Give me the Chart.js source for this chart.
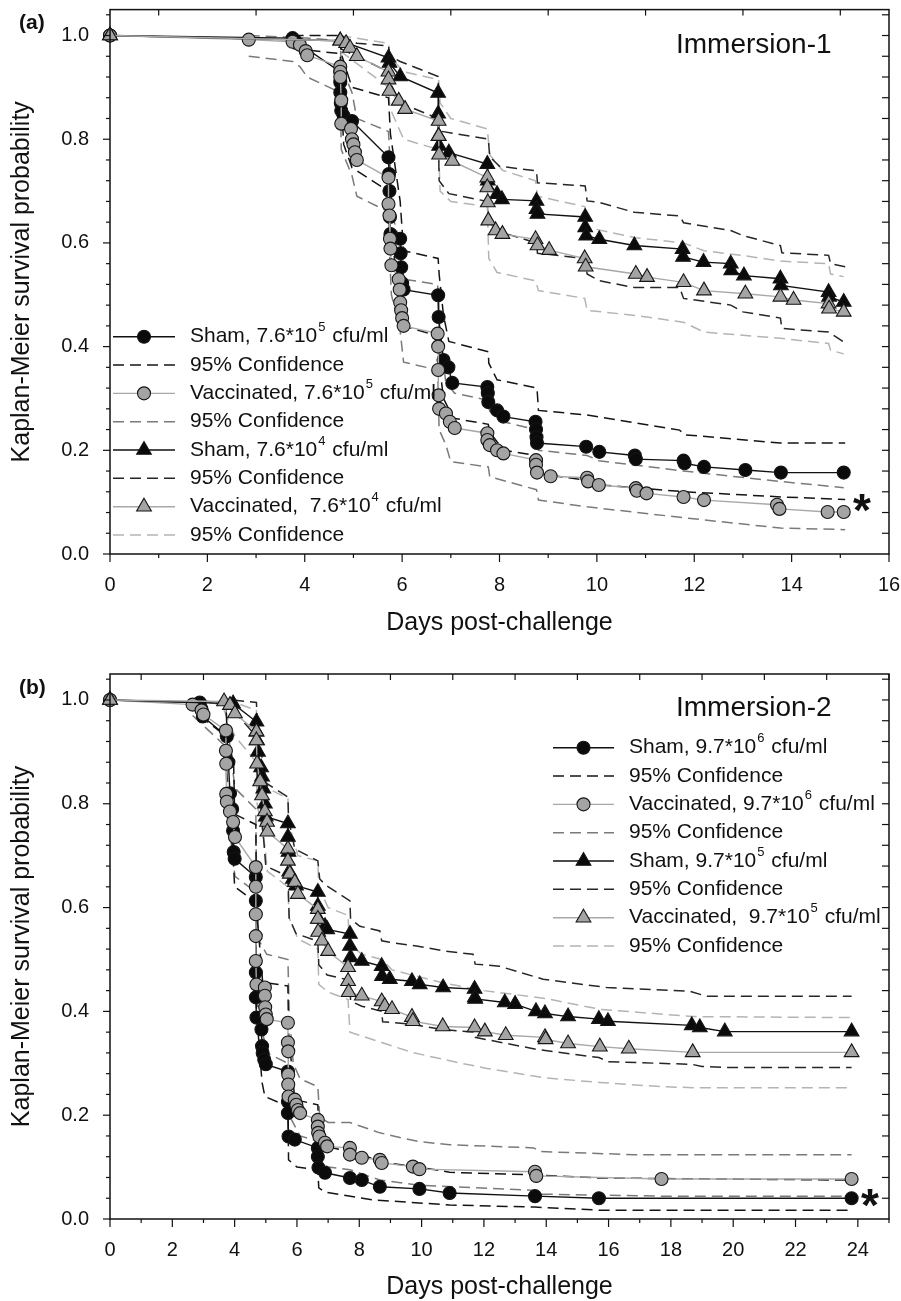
<!DOCTYPE html>
<html>
<head>
<meta charset="utf-8">
<script src="https://cdn.jsdelivr.net/npm/chart.js@4.4.1/dist/chart.umd.min.js"></script>
<style>
  html, body { margin: 0; padding: 0; background: #fff; }
  #wrap { position: relative; width: 901px; height: 1301px; }
  canvas { position: absolute; left: 0; }
  #chartA { top: 0; }
  #chartB { top: 650px; }
</style>
</head>
<body>
<div id="wrap">
  <canvas id="chartA" width="901" height="650"></canvas>
  <canvas id="chartB" width="901" height="651"></canvas>
</div>
<script>
// ---- tick labels ----
const yTicks = [0, 0.2, 0.4, 0.6, 0.8, 1.0];
const xTicksA = [0, 2, 4, 6, 8, 10, 12, 14, 16];
const xTicksB = [0, 2, 4, 6, 8, 10, 12, 14, 16, 18, 20, 22, 24];

// ---- panel (a): Immersion-1, [days, survival] ----
const aSham5 = [[0,1],[3.75,0.995],[3.8,0.99],[4.73,0.93],[4.73,0.91],[4.73,0.89],[4.74,0.87],[4.75,0.855],[4.8,0.845],[4.97,0.835],[5.72,0.765],[5.73,0.733],[5.74,0.70],[5.75,0.65],[5.76,0.617],[5.96,0.608],[5.97,0.58],[5.98,0.553],[6.0,0.522],[6.03,0.51],[6.74,0.499],[6.75,0.457],[6.85,0.374],[6.95,0.36],[7.03,0.33],[7.75,0.322],[7.76,0.31],[7.77,0.293],[7.95,0.277],[8.08,0.265],[8.74,0.255],[8.75,0.24],[8.76,0.225],[8.77,0.214],[9.78,0.207],[10.05,0.197],[10.78,0.19],[10.8,0.183],[11.78,0.18],[11.8,0.175],[12.2,0.168],[13.05,0.162],[13.78,0.157],[15.07,0.157]];
const aSham5Up = [[3.75,1.0],[4.73,1.0],[4.75,0.965],[4.97,0.9],[5.72,0.88],[5.76,0.81],[5.96,0.68],[6.03,0.585],[6.74,0.57],[6.76,0.54],[6.85,0.46],[6.96,0.41],[7.77,0.39],[7.78,0.368],[7.95,0.336],[8.77,0.32],[8.8,0.277],[9.8,0.268],[11.7,0.239],[11.8,0.23],[13.77,0.214],[15.1,0.214]];
const aSham5Lo = [[3.75,0.975],[4.73,0.965],[4.75,0.88],[4.8,0.79],[4.97,0.745],[5.72,0.70],[5.76,0.62],[5.96,0.5],[6.03,0.44],[6.74,0.42],[6.76,0.37],[6.85,0.3],[7.05,0.262],[7.77,0.25],[7.8,0.235],[8.08,0.2],[8.77,0.19],[8.8,0.155],[9.8,0.142],[9.85,0.135],[11.8,0.12],[13.8,0.11],[15.1,0.105]];

const aVac5 = [[0,1],[2.85,0.992],[3.75,0.988],[3.9,0.982],[4.02,0.97],[4.05,0.962],[4.73,0.94],[4.73,0.93],[4.73,0.92],[4.75,0.875],[4.75,0.83],[4.95,0.82],[4.97,0.80],[5.0,0.79],[5.03,0.775],[5.07,0.76],[5.72,0.726],[5.72,0.675],[5.74,0.653],[5.75,0.608],[5.76,0.589],[5.78,0.557],[5.93,0.53],[5.95,0.51],[5.96,0.485],[5.98,0.47],[6.0,0.455],[6.03,0.44],[6.73,0.425],[6.74,0.40],[6.74,0.355],[6.75,0.306],[6.76,0.28],[6.9,0.271],[6.98,0.255],[7.08,0.243],[7.75,0.233],[7.75,0.22],[7.8,0.21],[7.95,0.20],[8.08,0.194],[8.75,0.181],[8.75,0.172],[8.77,0.157],[9.05,0.15],[9.8,0.147],[9.82,0.14],[10.04,0.133],[10.8,0.127],[10.82,0.122],[11.02,0.117],[11.78,0.11],[12.2,0.104],[13.7,0.095],[13.75,0.087],[14.74,0.081],[15.07,0.081]];
const aVac5Up = [[2.85,1.0],[4.05,0.995],[4.73,0.99],[4.75,0.94],[4.97,0.89],[5.07,0.84],[5.72,0.815],[5.75,0.76],[5.78,0.66],[5.96,0.6],[6.03,0.53],[6.73,0.52],[6.76,0.43],[6.9,0.33],[7.08,0.31],[7.75,0.297],[7.8,0.275],[8.08,0.255],[8.75,0.24],[8.8,0.2],[9.8,0.19],[10.04,0.18],[11.78,0.16],[13.75,0.14],[15.07,0.128]];
const aVac5Lo = [[2.85,0.96],[3.75,0.95],[3.9,0.94],[4.05,0.92],[4.73,0.89],[4.75,0.78],[4.97,0.73],[5.07,0.69],[5.72,0.66],[5.75,0.56],[5.78,0.5],[5.96,0.43],[6.03,0.37],[6.73,0.355],[6.76,0.24],[6.9,0.21],[7.0,0.178],[7.77,0.168],[7.8,0.149],[8.76,0.124],[8.8,0.104],[9.8,0.091],[11.78,0.07],[13.77,0.05],[15.1,0.047]];

const aSham4 = [[0,1],[4.73,0.99],[5.72,0.957],[5.74,0.947],[5.96,0.921],[6.74,0.889],[6.74,0.849],[6.75,0.806],[6.76,0.787],[6.96,0.774],[7.75,0.752],[7.76,0.72],[7.95,0.694],[8.05,0.684],[8.76,0.681],[8.76,0.665],[8.78,0.656],[9.76,0.65],[9.76,0.63],[9.78,0.614],[10.05,0.607],[10.77,0.595],[11.76,0.588],[11.77,0.573],[12.19,0.563],[12.75,0.56],[12.76,0.547],[13.02,0.537],[13.77,0.531],[13.78,0.518],[14.76,0.505],[14.77,0.496],[15.07,0.486]];
const aSham4Up = [[4.73,1.0],[5.07,0.985],[5.72,0.98],[5.75,0.96],[5.96,0.95],[6.74,0.921],[6.76,0.816],[7.77,0.80],[7.8,0.766],[8.0,0.748],[8.76,0.739],[8.78,0.716],[9.76,0.71],[9.8,0.681],[10.05,0.678],[10.77,0.659],[11.7,0.652],[11.78,0.639],[12.75,0.624],[13.0,0.614],[13.77,0.595],[13.8,0.581],[14.76,0.576],[14.8,0.56],[15.1,0.554]];
const aSham4Lo = [[4.73,0.975],[5.72,0.93],[5.75,0.91],[5.96,0.87],[6.74,0.84],[6.76,0.72],[6.96,0.695],[7.75,0.68],[7.78,0.64],[8.05,0.62],[8.76,0.60],[8.78,0.58],[9.76,0.57],[9.8,0.54],[10.05,0.527],[10.77,0.514],[11.7,0.514],[11.78,0.493],[12.75,0.48],[13.0,0.467],[13.77,0.455],[13.8,0.435],[14.76,0.428],[15.07,0.409]];

const aVac4 = [[0,1],[4.73,0.99],[4.85,0.985],[4.93,0.976],[5.07,0.96],[5.72,0.93],[5.72,0.915],[5.74,0.893],[5.93,0.874],[6.06,0.858],[6.75,0.835],[6.75,0.806],[6.76,0.77],[7.03,0.758],[7.75,0.726],[7.75,0.707],[7.76,0.678],[7.77,0.643],[7.92,0.624],[8.06,0.617],[8.74,0.607],[8.78,0.595],[9.02,0.586],[9.75,0.57],[9.77,0.554],[10.8,0.54],[11.03,0.534],[11.78,0.524],[12.2,0.508],[13.05,0.502],[13.77,0.496],[14.04,0.49],[14.76,0.483],[14.77,0.473],[15.07,0.467]];
const aVac4Up = [[4.73,1.0],[5.72,0.985],[5.75,0.96],[6.03,0.93],[6.75,0.915],[6.78,0.87],[7.0,0.84],[7.75,0.82],[7.8,0.77],[8.06,0.74],[8.74,0.72],[8.78,0.69],[9.75,0.67],[9.8,0.63],[10.8,0.61],[11.78,0.6],[12.2,0.585],[13.05,0.575],[13.77,0.565],[14.76,0.56],[14.8,0.54],[15.07,0.535]];
const aVac4Lo = [[4.73,0.97],[5.72,0.9],[5.75,0.86],[6.03,0.8],[6.75,0.78],[6.78,0.7],[7.0,0.68],[7.75,0.67],[7.78,0.57],[7.95,0.543],[8.74,0.527],[8.8,0.508],[9.75,0.493],[9.8,0.47],[10.8,0.46],[11.78,0.447],[12.2,0.428],[13.77,0.416],[14.76,0.406],[14.8,0.393],[15.07,0.386]];

// ---- panel (b): Immersion-2 ----
const bSham6 = [[0,1],[2.88,0.995],[2.92,0.984],[2.98,0.968],[3.75,0.93],[3.8,0.88],[3.85,0.82],[3.92,0.79],[3.95,0.748],[3.97,0.707],[4.0,0.694],[4.68,0.659],[4.68,0.613],[4.68,0.475],[4.68,0.427],[4.7,0.388],[4.86,0.365],[4.88,0.333],[4.9,0.32],[4.95,0.307],[5.0,0.298],[5.71,0.284],[5.71,0.226],[5.71,0.204],[5.73,0.159],[5.93,0.153],[6.67,0.137],[6.67,0.12],[6.69,0.099],[6.9,0.089],[7.7,0.079],[8.08,0.075],[8.66,0.062],[9.93,0.058],[10.9,0.05],[13.64,0.044],[15.69,0.04],[23.8,0.04]];
const bSham6Up = [[2.88,1.0],[3.72,0.99],[3.75,0.95],[3.97,0.87],[4.0,0.78],[4.68,0.76],[4.7,0.6],[4.9,0.456],[5.71,0.449],[5.73,0.36],[5.93,0.23],[6.67,0.22],[6.7,0.17],[6.9,0.14],[7.7,0.13],[8.08,0.125],[8.66,0.11],[9.93,0.1],[10.9,0.09],[13.64,0.085],[15.69,0.079],[23.8,0.075]];
const bSham6Lo = [[2.88,0.97],[3.72,0.93],[3.75,0.86],[3.95,0.70],[4.0,0.64],[4.68,0.61],[4.7,0.4],[4.88,0.263],[4.97,0.236],[5.71,0.217],[5.73,0.114],[6.0,0.1],[6.67,0.095],[6.7,0.06],[6.9,0.052],[8.4,0.037],[10.9,0.027],[13.64,0.023],[15.69,0.017],[23.8,0.017]];

const bVac6 = [[0,1],[2.65,0.991],[2.94,0.98],[3.0,0.972],[3.72,0.941],[3.72,0.902],[3.73,0.877],[3.73,0.819],[3.75,0.804],[3.85,0.785],[3.95,0.765],[4.01,0.736],[4.68,0.678],[4.68,0.64],[4.68,0.587],[4.68,0.545],[4.68,0.497],[4.7,0.452],[4.97,0.446],[4.97,0.43],[4.98,0.408],[5.0,0.394],[5.03,0.385],[5.71,0.378],[5.71,0.34],[5.72,0.323],[5.72,0.278],[5.72,0.259],[5.73,0.236],[5.93,0.23],[5.98,0.22],[6.03,0.21],[6.1,0.204],[6.67,0.191],[6.67,0.178],[6.68,0.166],[6.72,0.159],[6.9,0.147],[6.97,0.14],[7.7,0.137],[7.7,0.124],[8.08,0.118],[8.66,0.114],[8.72,0.108],[9.72,0.101],[9.93,0.096],[13.64,0.091],[13.68,0.083],[17.7,0.077],[23.8,0.077]];
const bVac6Up = [[2.65,1.0],[3.72,0.99],[3.75,0.96],[4.01,0.83],[4.68,0.79],[4.7,0.65],[4.75,0.54],[5.03,0.51],[5.71,0.5],[5.75,0.4],[5.88,0.3],[6.1,0.27],[6.67,0.255],[6.73,0.197],[7.0,0.186],[7.7,0.186],[8.66,0.166],[9.3,0.157],[9.94,0.149],[10.9,0.143],[13.6,0.137],[13.8,0.13],[16.8,0.124],[23.8,0.124]];
const bVac6Lo = [[2.65,0.97],[3.72,0.91],[3.75,0.8],[4.01,0.66],[4.68,0.63],[4.7,0.42],[5.03,0.32],[5.71,0.3],[5.75,0.2],[6.1,0.16],[6.67,0.15],[6.7,0.11],[7.0,0.1],[7.7,0.095],[8.66,0.075],[9.93,0.065],[13.64,0.055],[13.7,0.048],[17.7,0.044],[23.8,0.044]];

const bSham5 = [[0,1],[3.95,0.993],[4.7,0.958],[4.7,0.939],[4.72,0.922],[4.75,0.9],[4.85,0.87],[4.88,0.852],[4.92,0.829],[4.97,0.8],[5.0,0.775],[5.71,0.762],[5.71,0.736],[5.73,0.707],[5.75,0.669],[5.87,0.655],[5.97,0.642],[6.67,0.63],[6.67,0.603],[6.69,0.578],[6.9,0.564],[6.97,0.558],[7.7,0.549],[7.7,0.526],[7.72,0.504],[8.08,0.497],[8.72,0.487],[8.73,0.468],[8.98,0.462],[9.69,0.458],[9.94,0.452],[10.69,0.446],[11.7,0.443],[11.71,0.427],[11.72,0.424],[12.67,0.417],[13.0,0.414],[13.67,0.4],[13.96,0.396],[14.7,0.39],[15.69,0.385],[15.98,0.381],[18.67,0.373],[18.93,0.369],[19.73,0.361],[23.8,0.361]];
const bSham5Up = [[3.95,1.0],[4.7,0.995],[4.72,0.96],[4.85,0.9],[4.97,0.86],[5.0,0.84],[5.71,0.813],[5.73,0.77],[5.93,0.713],[6.67,0.69],[6.73,0.655],[6.95,0.642],[7.7,0.613],[7.72,0.578],[8.02,0.564],[8.66,0.555],[8.72,0.536],[8.98,0.533],[9.84,0.526],[10.75,0.516],[11.65,0.51],[11.72,0.491],[12.5,0.487],[13.9,0.462],[15.94,0.446],[18.6,0.439],[19.15,0.429],[23.8,0.429]];
const bSham5Lo = [[3.95,0.98],[4.7,0.93],[4.72,0.86],[4.88,0.77],[5.0,0.68],[5.71,0.66],[5.75,0.58],[5.97,0.55],[6.67,0.535],[6.7,0.49],[6.97,0.47],[7.7,0.46],[7.72,0.42],[8.08,0.41],[8.72,0.4],[8.75,0.38],[9.69,0.375],[10.69,0.365],[11.7,0.36],[11.72,0.35],[13.67,0.327],[15.69,0.311],[16.0,0.303],[18.67,0.298],[19.0,0.294],[19.73,0.292],[23.8,0.292]];

const bVac5 = [[0,1],[3.66,0.997],[3.85,0.99],[4.01,0.974],[4.7,0.939],[4.7,0.922],[4.72,0.877],[4.82,0.843],[4.88,0.816],[4.97,0.785],[5.04,0.765],[5.05,0.746],[5.71,0.713],[5.71,0.69],[5.77,0.665],[5.93,0.649],[6.03,0.626],[6.67,0.597],[6.67,0.578],[6.68,0.553],[6.8,0.536],[7.0,0.516],[7.64,0.485],[7.64,0.458],[7.66,0.437],[8.08,0.43],[8.72,0.419],[8.82,0.41],[9.05,0.404],[9.69,0.389],[9.72,0.381],[10.68,0.371],[11.7,0.369],[12.03,0.361],[12.7,0.354],[13.96,0.35],[13.98,0.346],[14.7,0.338],[15.72,0.332],[16.65,0.328],[18.7,0.321],[23.8,0.321]];
const bVac5Up = [[3.66,1.0],[4.01,0.995],[4.7,0.98],[4.72,0.93],[4.97,0.86],[5.05,0.83],[5.71,0.81],[5.75,0.76],[6.03,0.7],[6.67,0.69],[6.7,0.64],[7.0,0.6],[7.64,0.585],[7.68,0.53],[8.08,0.51],[8.72,0.5],[9.05,0.48],[9.69,0.47],[10.68,0.455],[12.0,0.44],[13.96,0.425],[15.72,0.404],[18.7,0.39],[23.8,0.388]];
const bVac5Lo = [[3.66,0.98],[4.01,0.93],[4.7,0.88],[4.72,0.8],[4.97,0.72],[5.05,0.67],[5.71,0.64],[5.75,0.58],[6.03,0.54],[6.67,0.52],[6.7,0.452],[7.0,0.437],[7.64,0.423],[7.7,0.36],[8.72,0.34],[9.69,0.321],[11.2,0.301],[12.1,0.29],[13.96,0.272],[15.72,0.263],[17.7,0.255],[18.7,0.253],[23.8,0.253]];

// ---- styling ----
const FONT = '"Liberation Sans", Arial, Helvetica, sans-serif';
const INK = '#111';
const GRAY_FILL = '#a4a4a4';
const GRAY_LINE = '#a8a8a8';
const DASH = [11, 6];

Chart.defaults.font.family = FONT;
Chart.defaults.color = INK;

function km(label, data, fill, line, style, r) {
  return {
    label, data, borderColor: line, borderWidth: 1.4, tension: 0, clip: false,
    pointStyle: style, pointRadius: r, pointBackgroundColor: fill,
    pointBorderColor: '#151515', pointBorderWidth: 1.1
  };
}
function ci(data, color) {
  return {
    label: '95% Confidence', data, borderColor: color, borderWidth: 1.5,
    borderDash: DASH, pointRadius: 0, tension: 0, order: 10
  };
}

// frame with inner / outer ticks, legend, panel texts
const decor = {
  id: 'decor',
  afterDraw(chart, args, o) {
    const { ctx, chartArea: a, scales: { x, y } } = chart;
    ctx.save();
    ctx.strokeStyle = INK;
    ctx.lineWidth = 1.5;
    ctx.setLineDash([]);
    ctx.strokeRect(a.left, a.top, a.right - a.left, a.bottom - a.top);
    ctx.lineWidth = 1.2;
    const seg = (x1, y1, x2, y2) => { ctx.beginPath(); ctx.moveTo(x1, y1); ctx.lineTo(x2, y2); ctx.stroke(); };
    for (let v = 0; v <= o.xMax + 1e-9; v += 1) {
      const px = x.getPixelForValue(v);
      const major = v % 2 === 0;
      seg(px, a.bottom, px, a.bottom + (major ? 8 : 4));
      if (!major) seg(px, a.top, px, a.top + 6);
    }
    for (let k = 0; k <= 26; k++) {
      const v = k * 0.04;
      const py = y.getPixelForValue(v);
      seg(a.left - (k % 5 === 0 ? 7 : 4), py, a.left, py);
      if (k > 0) seg(a.right - 7, py, a.right, py);
    }

    // legend
    const L = o.legend;
    L.rows.forEach((row, i) => {
      const ds = chart.data.datasets[row.ds];
      const yy = L.y + i * L.dy;
      ctx.strokeStyle = ds.borderColor;
      ctx.lineWidth = ds.borderWidth;
      ctx.setLineDash(ds.borderDash || []);
      seg(L.x1, yy, L.x2, yy);
      ctx.setLineDash([]);
      if (ds.pointRadius) {
        const cx = (L.x1 + L.x2) / 2, r = ds.pointRadius;
        ctx.fillStyle = ds.pointBackgroundColor;
        ctx.strokeStyle = ds.pointBorderColor;
        ctx.lineWidth = ds.pointBorderWidth;
        ctx.beginPath();
        if (ds.pointStyle === 'triangle') {
          ctx.moveTo(cx, yy - r);
          ctx.lineTo(cx + r * 0.866, yy + r * 0.5);
          ctx.lineTo(cx - r * 0.866, yy + r * 0.5);
          ctx.closePath();
        } else {
          ctx.arc(cx, yy, r, 0, Math.PI * 2);
        }
        ctx.fill(); ctx.stroke();
      }
      ctx.fillStyle = INK;
      ctx.textBaseline = 'middle';
      ctx.textAlign = 'left';
      ctx.font = '21px ' + FONT;
      let tx = L.tx;
      ctx.fillText(row.pre, tx, yy);
      tx += ctx.measureText(row.pre).width;
      if (row.sup) {
        ctx.font = '13px ' + FONT;
        ctx.fillText(row.sup, tx + 1, yy - 9);
        tx += ctx.measureText(row.sup).width + 2;
        ctx.font = '21px ' + FONT;
        ctx.fillText(row.post, tx, yy);
      }
    });

    // panel texts
    o.texts.forEach(t => {
      ctx.fillStyle = INK;
      ctx.font = t.font;
      ctx.textAlign = 'left';
      ctx.textBaseline = t.base || 'middle';
      ctx.fillText(t.text, t.x, t.y);
    });
    ctx.restore();
  }
};

function makeChart(id, cfg) {
  const datasets = cfg.series;
  new Chart(document.getElementById(id), {
    type: 'line',
    data: { datasets },
    plugins: [decor],
    options: {
      responsive: false,
      animation: false,
      parsing: true,
      layout: { padding: { top: cfg.padTop, right: 12, left: 0, bottom: 0 } },
      plugins: {
        legend: { display: false },
        tooltip: { enabled: false },
        decor: { xMax: cfg.xMax, legend: cfg.legend, texts: cfg.texts }
      },
      scales: {
        x: {
          type: 'linear', min: 0, max: cfg.xMax,
          grid: { display: false, drawTicks: false },
          border: { display: false },
          afterBuildTicks: s => { s.ticks = cfg.xTicks.map(v => ({ value: v })); },
          afterFit: s => { s.height = cfg.xHeight; s.paddingLeft = 0; s.paddingRight = 0; },
          ticks: { autoSkip: false, maxRotation: 0, padding: 19, color: INK, font: { size: 20 } },
          title: { display: true, text: 'Days post-challenge', color: INK,
                   font: { size: 25, lineHeight: 1 }, padding: { top: 0, bottom: cfg.xTitlePad } }
        },
        y: {
          type: 'linear', min: 0, max: 1.05,
          grid: { display: false, drawTicks: false },
          border: { display: false },
          afterBuildTicks: s => { s.ticks = yTicks.map(v => ({ value: v })); },
          afterFit: s => { s.width = 110; s.paddingTop = 0; s.paddingBottom = 0; },
          ticks: { padding: 21, color: INK, font: { size: 20 }, callback: v => v.toFixed(1) },
          title: { display: true, text: 'Kaplan-Meier survival probability', color: INK,
                   font: { size: 25, lineHeight: 1 }, padding: { top: 10, bottom: 0 } }
        }
      }
    }
  });
}

function buildSeries(s1, s1u, s1l, v1, v1u, v1l, s2, s2u, s2l, v2, v2u, v2l, labels) {
  const list = [
    km(labels[0], s1, '#0b0b0b', INK, 'circle', 6.5),
    ci(s1u, '#141414'), ci(s1l, '#141414'),
    km(labels[1], v1, GRAY_FILL, GRAY_LINE, 'circle', 6.5),
    ci(v1u, '#7a7a7a'), ci(v1l, '#7a7a7a'),
    km(labels[2], s2, '#0b0b0b', INK, 'triangle', 8.5),
    ci(s2u, '#262626'), ci(s2l, '#262626'),
    km(labels[3], v2, GRAY_FILL, GRAY_LINE, 'triangle', 8.5),
    ci(v2u, '#b4b4b4'), ci(v2l, '#b4b4b4')
  ];
  list[0].order = 4; list[3].order = 3; list[6].order = 2; list[9].order = 1;
  return list;
}

function legendRows(dose1, dose2, unit) {
  return [
    { ds: 0, pre: 'Sham, ' + unit + '*10', sup: dose1, post: ' cfu/ml' },
    { ds: 1, pre: '95% Confidence' },
    { ds: 3, pre: 'Vaccinated, ' + unit + '*10', sup: dose1, post: ' cfu/ml' },
    { ds: 4, pre: '95% Confidence' },
    { ds: 6, pre: 'Sham, ' + unit + '*10', sup: dose2, post: ' cfu/ml' },
    { ds: 7, pre: '95% Confidence' },
    { ds: 9, pre: 'Vaccinated,  ' + unit + '*10', sup: dose2, post: ' cfu/ml' },
    { ds: 10, pre: '95% Confidence' }
  ];
}

makeChart('chartA', {
  series: buildSeries(aSham5, aSham5Up, aSham5Lo, aVac5, aVac5Up, aVac5Lo,
                      aSham4, aSham4Up, aSham4Lo, aVac4, aVac4Up, aVac4Lo,
                      ['Sham, 7.6*10^5 cfu/ml', 'Vaccinated, 7.6*10^5 cfu/ml', 'Sham, 7.6*10^4 cfu/ml', 'Vaccinated, 7.6*10^4 cfu/ml']),
  padTop: 9, xMax: 16, xTicks: xTicksA, xHeight: 96, xTitlePad: 14,
  legend: { rows: legendRows('5', '4', '7.6'), x1: 113, x2: 175, tx: 190, y: 336.7, dy: 28.33 },
  texts: [
    { text: '(a)', x: 19, y: 23, font: 'bold 21px ' + FONT },
    { text: 'Immersion-1', x: 676, y: 45, font: '28px ' + FONT },
    { text: '*', x: 853, y: 526, font: 'bold 46px ' + FONT, base: 'alphabetic' }
  ]
});

makeChart('chartB', {
  series: buildSeries(bSham6, bSham6Up, bSham6Lo, bVac6, bVac6Up, bVac6Lo,
                      bSham5, bSham5Up, bSham5Lo, bVac5, bVac5Up, bVac5Lo,
                      ['Sham, 9.7*10^6 cfu/ml', 'Vaccinated, 9.7*10^6 cfu/ml', 'Sham, 9.7*10^5 cfu/ml', 'Vaccinated, 9.7*10^5 cfu/ml']),
  padTop: 24, xMax: 25, xTicks: xTicksB, xHeight: 82, xTitlePad: 1,
  legend: { rows: legendRows('6', '5', '9.7'), x1: 553, x2: 614, tx: 629, y: 97.7, dy: 28.33 },
  texts: [
    { text: '(b)', x: 19, y: 38, font: 'bold 21px ' + FONT },
    { text: 'Immersion-2', x: 676, y: 58, font: '28px ' + FONT },
    { text: '*', x: 861, y: 571, font: 'bold 46px ' + FONT, base: 'alphabetic' }
  ]
});
</script>
</body>
</html>
